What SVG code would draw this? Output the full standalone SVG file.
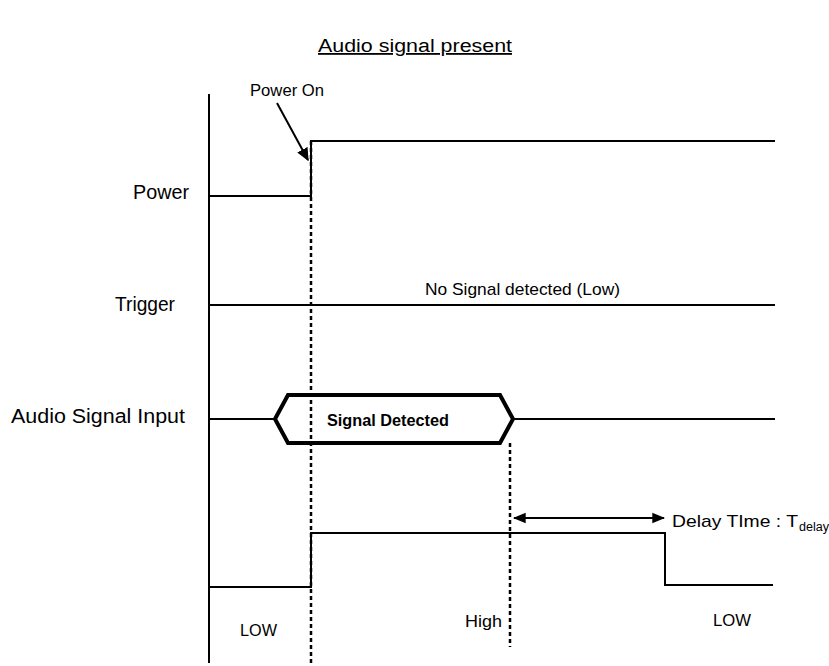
<svg xmlns="http://www.w3.org/2000/svg" width="829" height="666" viewBox="0 0 829 666">
<style>
text{font-family:"Liberation Sans",Arial,sans-serif;fill:#000}
.sig{fill:none;stroke:#000;stroke-width:2}
.dash{fill:none;stroke:#000;stroke-width:2.5;stroke-dasharray:4,3}
.lbl{font-size:20px}
</style>
<defs>
<marker id="ah" viewBox="0 0 10 10" refX="9" refY="5" markerWidth="13" markerHeight="13" orient="auto" markerUnits="userSpaceOnUse">
<path d="M0,0.5 L10,5 L0,9.5 z" fill="#000"/>
</marker>
<marker id="ah2" viewBox="0 0 10 10" refX="9" refY="5" markerWidth="13" markerHeight="13" orient="auto-start-reverse" markerUnits="userSpaceOnUse">
<path d="M0,1 L10,5 L0,9 z" fill="#000"/>
</marker>
</defs>
<rect width="829" height="666" fill="#fff"/>
<g id="title"><text x="318" y="52" font-size="18" textLength="194" lengthAdjust="spacingAndGlyphs" text-decoration="underline">Audio signal present</text></g>
<g id="axis"><line class="sig" x1="209" y1="94" x2="209" y2="663"/></g>
<g id="labels">
<text class="lbl" x="133" y="199" textLength="56" lengthAdjust="spacingAndGlyphs">Power</text>
<text class="lbl" x="115" y="311" textLength="60" lengthAdjust="spacingAndGlyphs">Trigger</text>
<text class="lbl" x="11" y="423" textLength="174" lengthAdjust="spacingAndGlyphs">Audio Signal Input</text>
</g>
<g id="power">
<path class="sig" d="M209,196 H311 V141 H775"/>
<text x="250" y="96" font-size="16" textLength="74" lengthAdjust="spacingAndGlyphs">Power On</text>
</g>
<g id="trigger">
<line class="sig" x1="209" y1="305" x2="775" y2="305"/>
<text x="425" y="295" font-size="17" textLength="195" lengthAdjust="spacingAndGlyphs">No Signal detected (Low)</text>
</g>
<g id="audio">
<line class="sig" x1="209" y1="419" x2="275" y2="419"/>
<line class="sig" x1="513" y1="419" x2="775" y2="419"/>
<path d="M275,419 L288,395 H500 L513,419 L500,443 H288 Z" fill="none" stroke="#000" stroke-width="4" stroke-linejoin="miter"/>
<text x="327" y="426" font-size="16" font-weight="bold" textLength="122" lengthAdjust="spacingAndGlyphs">Signal Detected</text>
</g>
<g id="output">
<path class="sig" d="M209,587 H311 V533 H665 V585 H773"/>
<text x="240" y="636" font-size="16" textLength="37" lengthAdjust="spacingAndGlyphs">LOW</text>
<text x="465" y="627" font-size="17" textLength="37" lengthAdjust="spacingAndGlyphs">High</text>
<text x="713" y="626" font-size="16" textLength="38" lengthAdjust="spacingAndGlyphs">LOW</text>
</g>
<g id="connectors">
<line class="dash" x1="311" y1="141" x2="311" y2="666"/>
<line class="dash" x1="510" y1="443" x2="510" y2="647"/>
<line x1="277" y1="103" x2="308" y2="160" stroke="#000" stroke-width="2" marker-end="url(#ah)"/>
<line x1="514" y1="518" x2="664" y2="518" stroke="#000" stroke-width="2" marker-start="url(#ah2)" marker-end="url(#ah2)"/>
</g>
<g id="delay">
<text x="672" y="527" font-size="17" textLength="126" lengthAdjust="spacingAndGlyphs">Delay TIme : T</text>
<text x="799" y="531" font-size="12" textLength="30" lengthAdjust="spacingAndGlyphs">delay</text>
</g>
</svg>
